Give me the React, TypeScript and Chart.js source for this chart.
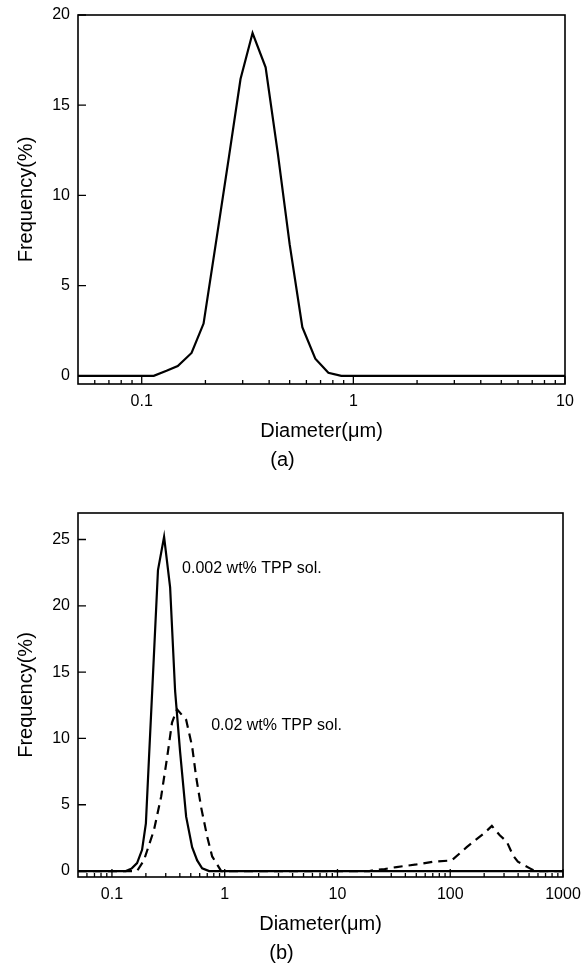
import React, { useEffect, useRef } from "react";
import { Chart, registerables } from "chart.js";

Chart.register(...registerables);

const FONT = "'Liberation Sans', Arial, Helvetica, sans-serif";

// ---------- Panel (a) ----------
const aDiameter = [0.05, 0.114, 0.131, 0.148, 0.172, 0.196, 0.225, 0.258, 0.293, 0.334, 0.385, 0.44, 0.5, 0.574, 0.661, 0.762, 0.877, 10];
const aFrequency = [0, 0, 0.28, 0.55, 1.27, 2.9, 7.5, 12.1, 16.45, 19.0, 17.1, 12.3, 7.3, 2.7, 0.95, 0.17, 0, 0];

// ---------- Panel (b) ----------
// 0.002 wt% TPP sol. (solid)
const bSolidDiameter = [0.05, 0.133, 0.15, 0.167, 0.185, 0.2, 0.213, 0.227, 0.256, 0.29, 0.328, 0.363, 0.402, 0.455, 0.514, 0.57, 0.631, 0.728, 1000];
const bSolidFrequency = [0, 0, 0.2, 0.6, 1.6, 3.6, 8.5, 13.4, 22.7, 25.2, 21.4, 13.6, 9.0, 4.1, 1.8, 0.8, 0.2, 0, 0];
// 0.02 wt% TPP sol. (dashed)
const bDashDiameter = [0.05, 0.167, 0.192, 0.236, 0.273, 0.309, 0.341, 0.378, 0.455, 0.514, 0.558, 0.618, 0.699, 0.774, 0.931, 19.2, 22.2, 26.2, 33.4, 50.4, 69.9, 103, 140, 203, 234, 275, 318, 359, 398, 509, 564, 1000];
const bDashFrequency = [0, 0, 0.8, 3.1, 5.6, 8.6, 11.2, 12.2, 11.4, 9.4, 7.1, 4.8, 2.6, 1.1, 0, 0, 0.1, 0.15, 0.3, 0.5, 0.7, 0.8, 1.8, 2.9, 3.4, 2.7, 2.2, 1.2, 0.7, 0.2, 0, 0];

// annotations in panel (b)
const bNoteText = ["0.002 wt% TPP sol.", "0.02 wt% TPP sol."];
const bNoteX = [0.419, 0.759];
const bNoteY = [22.8, 11.0];

// ticks
const aXMajor = [0.1, 1, 10];
const bXMajor = [0.1, 1, 10, 100, 1000];
const aXDecades = [0.01, 0.1, 1];
const bXDecades = [0.01, 0.1, 1, 10, 100];
const minorMultipliers = [2, 3, 4, 5, 6, 7, 8, 9];
const aYTicks = [0, 5, 10, 15, 20];
const bYTicks = [0, 5, 10, 15, 20, 25];

const xTitle = "Diameter(μm)";
const yTitle = "Frequency(%)";

function minorTicks(decades: number[], min: number, max: number) {
  const out: number[] = [];
  decades.forEach((d) =>
    minorMultipliers.forEach((m) => {
      const v = +(d * m).toPrecision(6);
      if (v > min && v < max) out.push(v);
    })
  );
  return out;
}

const frameTicks = {
  id: "frameTicks",
  afterDatasetsDraw(chart: any, _args: any, opts: any) {
    const { ctx, chartArea } = chart;
    const { left, right, top, bottom } = chartArea;
    const x = chart.scales.x;
    const y = chart.scales.y;
    ctx.save();
    ctx.strokeStyle = "#000";
    ctx.lineWidth = 1.6;
    ctx.strokeRect(left, top, right - left, bottom - top);
    ctx.lineWidth = 1.3;
    ctx.beginPath();
    (opts.xMajor || []).forEach((v: number) => {
      const px = x.getPixelForValue(v);
      ctx.moveTo(px, bottom);
      ctx.lineTo(px, bottom - 8);
    });
    (opts.xMinor || []).forEach((v: number) => {
      const px = x.getPixelForValue(v);
      ctx.moveTo(px, bottom);
      ctx.lineTo(px, bottom - 4);
    });
    (opts.yMajor || []).forEach((v: number) => {
      const py = y.getPixelForValue(v);
      ctx.moveTo(left, py);
      ctx.lineTo(left + 8, py);
    });
    ctx.stroke();
    const notes = opts.notes;
    if (notes) {
      ctx.fillStyle = "#000";
      ctx.font = `16px ${FONT}`;
      ctx.textAlign = "left";
      ctx.textBaseline = "middle";
      notes.text.forEach((t: string, i: number) => {
        ctx.fillText(t, x.getPixelForValue(notes.x[i]), y.getPixelForValue(notes.y[i]));
      });
    }
    ctx.restore();
  },
};

function makeConfig(p: any) {
  const tickFont = { family: FONT, size: 16 };
  const titleFont = { family: FONT, size: 20, weight: "normal" as const };
  return {
    type: "line",
    data: { datasets: p.datasets },
    options: {
      responsive: false,
      animation: false,
      devicePixelRatio: 1,
      layout: { padding: { top: p.padTop, right: p.padRight, left: 0, bottom: 0 } },
      elements: { point: { radius: 0 }, line: { tension: 0 } },
      plugins: {
        legend: { display: false },
        tooltip: { enabled: false },
        title: {
          display: true,
          text: p.caption,
          position: "bottom",
          color: "#000",
          font: titleFont,
          padding: { top: 4, bottom: 1 },
        },
        frameTicks: { xMajor: p.xMajor, xMinor: p.xMinor, yMajor: p.yMajor, notes: p.notes },
      },
      scales: {
        x: {
          type: "logarithmic",
          min: p.xMin,
          max: p.xMax,
          afterFit: (s: any) => {
            s.height = 60;
            s.paddingLeft = 0;
            s.paddingRight = 0;
          },
          afterBuildTicks: (s: any) => {
            s.ticks = p.xMajor.map((v: number) => ({ value: v }));
          },
          ticks: {
            autoSkip: false,
            maxRotation: 0,
            padding: 8,
            color: "#000",
            font: tickFont,
            callback: (v: any) => String(v),
          },
          grid: { display: false, drawTicks: false },
          border: { display: false },
          title: { display: true, text: xTitle, color: "#000", font: titleFont, padding: { top: 0, bottom: 1 } },
        },
        y: {
          type: "linear",
          min: p.yMin,
          max: p.yMax,
          afterFit: (s: any) => {
            s.width = 78;
            s.paddingTop = 0;
            s.paddingBottom = 0;
          },
          afterBuildTicks: (s: any) => {
            s.ticks = p.yMajor.map((v: number) => ({ value: v }));
          },
          ticks: { padding: 8, color: "#000", font: tickFont },
          grid: { display: false, drawTicks: false },
          border: { display: false },
          title: { display: true, text: yTitle, color: "#000", font: titleFont, padding: { top: 14, bottom: 0 } },
        },
      },
    },
    plugins: [frameTicks],
  };
}

const toPoints = (xs: number[], ys: number[]) => xs.map((x, i) => ({ x, y: ys[i] }));

function configA() {
  return makeConfig({
    datasets: [
      {
        label: "Frequency",
        data: toPoints(aDiameter, aFrequency),
        borderColor: "#000",
        borderWidth: 2.2,
        fill: false,
      },
    ],
    xMin: 0.05,
    xMax: 10,
    yMin: -0.45,
    yMax: 20,
    xMajor: aXMajor,
    xMinor: minorTicks(aXDecades, 0.05, 10),
    yMajor: aYTicks,
    caption: "(a)",
    padTop: 15,
    padRight: 20,
  });
}

function configB() {
  return makeConfig({
    datasets: [
      {
        label: bNoteText[0],
        data: toPoints(bSolidDiameter, bSolidFrequency),
        borderColor: "#000",
        borderWidth: 2.2,
        fill: false,
      },
      {
        label: bNoteText[1],
        data: toPoints(bDashDiameter, bDashFrequency),
        borderColor: "#000",
        borderWidth: 2.2,
        borderDash: [9, 6],
        fill: false,
      },
    ],
    xMin: 0.05,
    xMax: 1000,
    yMin: -0.45,
    yMax: 27,
    xMajor: bXMajor,
    xMinor: minorTicks(bXDecades, 0.05, 1000),
    yMajor: bYTicks,
    caption: "(b)",
    padTop: 37,
    padRight: 22,
    notes: { text: bNoteText, x: bNoteX, y: bNoteY },
  });
}

function ChartPanel({ build, top, width, height }: { build: () => any; top: number; width: number; height: number }) {
  const ref = useRef<HTMLCanvasElement>(null);
  useEffect(() => {
    if (!ref.current) return;
    const chart = new Chart(ref.current, build());
    return () => chart.destroy();
  }, []);
  return (
    <div style={{ position: "absolute", left: 0, top, width, height }}>
      <canvas ref={ref} width={width} height={height} style={{ display: "block", width, height }} />
    </div>
  );
}

export default function App() {
  return (
    <div style={{ position: "absolute", left: 0, top: 0, width: 585, height: 966, overflow: "hidden", background: "#fff" }}>
      <ChartPanel build={configA} top={0} width={585} height={473} />
      <ChartPanel build={configB} top={476} width={585} height={490} />
    </div>
  );
}
